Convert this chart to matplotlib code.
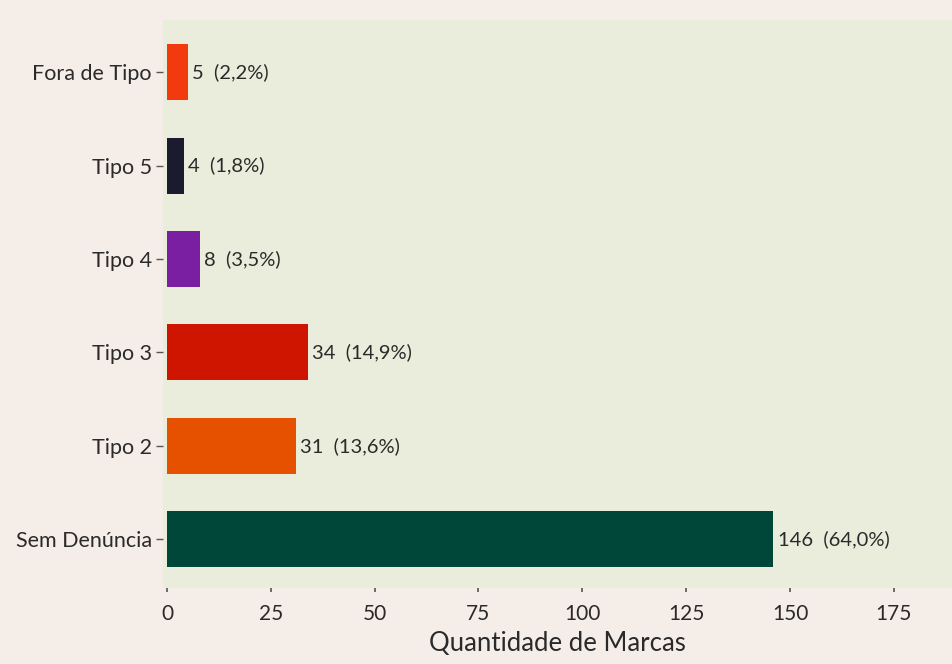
import matplotlib.pyplot as plt

categorias = ['Sem Denúncia', 'Tipo 2', 'Tipo 3', 'Tipo 4', 'Tipo 5', 'Fora de Tipo']
quantidades = [146, 31, 34, 8, 4, 5]
percentuais = ['64,0%', '13,6%', '14,9%', '3,5%', '1,8%', '2,2%']
cores = ['#00473A', '#E65100', '#CF1500', '#7B1FA2', '#1B1B30', '#F23A0E']
ticks_x = [0, 25, 50, 75, 100, 125, 150, 175]

plt.rcParams['font.family'] = ['Lato', 'DejaVu Sans']

fig = plt.figure(figsize=(9.52, 6.64), dpi=100, facecolor='#F5EEE8')
ax = fig.add_axes([0.171, 0.115, 0.829, 0.855])
ax.set_facecolor('#EAECDC')

y = range(len(categorias))
ax.barh(y, quantidades, height=0.6, color=cores)

for i, (q, p) in enumerate(zip(quantidades, percentuais)):
    ax.text(q + 1.0, i, f'{q}  ({p})', va='center', ha='left', fontsize=14.5, color='#2a2a2a')

ax.set_yticks(list(y))
ax.set_yticklabels(categorias, fontsize=15.5, color='#2a2a2a')
ax.set_xticks(ticks_x)
ax.set_xticklabels([str(t) for t in ticks_x], fontsize=15, color='#2a2a2a')
ax.set_xlim(-1, 189)
ax.set_ylim(-0.52, 5.56)
ax.set_xlabel('Quantidade de Marcas', fontsize=18.5, color='#2a2a2a', labelpad=5)

for s in ax.spines.values():
    s.set_visible(False)
ax.tick_params(axis='x', length=3, width=1.2, color='#555555', pad=9)
ax.tick_params(axis='y', length=5, width=1, color='#555555', pad=3)

fig.savefig('out.png', dpi=100, facecolor=fig.get_facecolor())
